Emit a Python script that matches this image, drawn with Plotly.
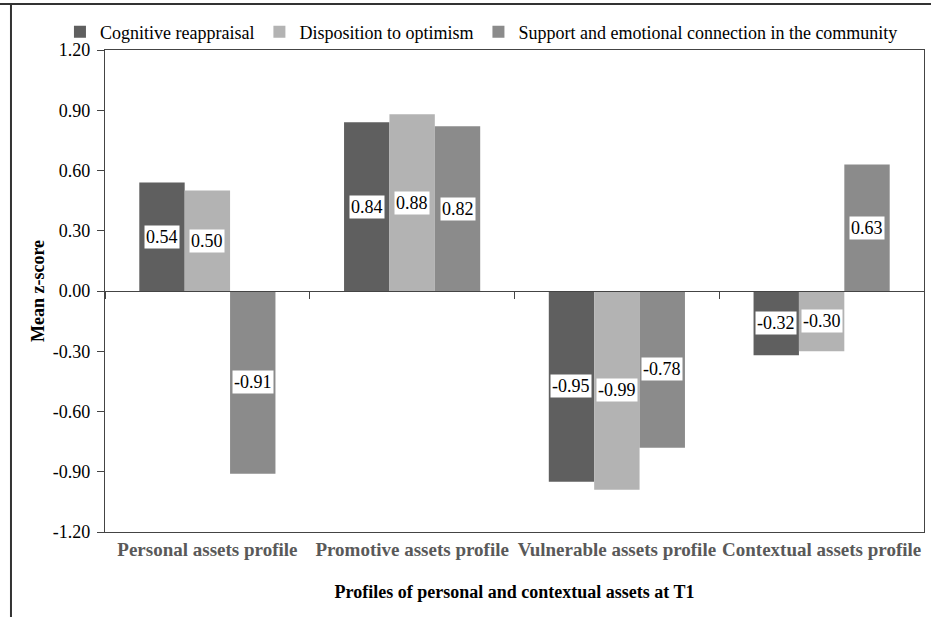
import plotly.graph_objects as go

categories = ["Personal assets profile", "Promotive assets profile",
              "Vulnerable assets profile", "Contextual assets profile"]
series_names = ["Cognitive reappraisal", "Disposition to optimism",
                "Support and emotional connection in the community"]
cognitive = [0.54, 0.84, -0.95, -0.32]
optimism = [0.50, 0.88, -0.99, -0.30]
support = [-0.91, 0.82, -0.78, 0.63]
y_tickvals = [1.20, 0.90, 0.60, 0.30, 0.00, -0.30, -0.60, -0.90, -1.20]
y_ticktext = ["1.20", "0.90", "0.60", "0.30", "0.00", "-0.30", "-0.60", "-0.90", "-1.20"]

colors = ["#5f5f5f", "#b3b3b3", "#8b8b8b"]
FONT = "Liberation Serif, Times New Roman, serif"
BARGAP = 0.335

series = [cognitive, optimism, support]
fig = go.Figure()
for name, vals, col in zip(series_names, series, colors):
    fig.add_trace(go.Bar(name=name, x=categories, y=vals, marker=dict(color=col, line=dict(width=0))))

# invisible trace to host the axis drawn at y = 0 (category boundary ticks)
fig.add_trace(go.Scatter(x=categories, y=[None] * len(categories), xaxis="x2",
                         showlegend=False, hoverinfo="skip"))

# value labels in white boxes at the middle of each bar
n = len(series)
bw = (1 - BARGAP) / n
annotations = []
for i, vals in enumerate(series):
    for j, v in enumerate(vals):
        annotations.append(dict(
            x=j + (i - (n - 1) / 2) * bw, y=v / 2, xref="x", yref="y",
            text=f"{v:.2f}", showarrow=False, bgcolor="white", borderpad=1,
            font=dict(family=FONT, size=18, color="black")))

fig.update_layout(
    width=931, height=617,
    margin=dict(l=105, r=7, t=50, b=85, autoexpand=False),
    paper_bgcolor="white", plot_bgcolor="white",
    barmode="group", bargap=BARGAP, bargroupgap=0,
    font=dict(family=FONT, size=18, color="black"),
    showlegend=True,
    legend=dict(orientation="h", x=-0.055, xanchor="left",
                y=1.037, yanchor="middle",
                font=dict(family=FONT, size=18, color="black"),
                itemwidth=30, tracegroupgap=0, bgcolor="rgba(0,0,0,0)"),
    xaxis=dict(type="category", showline=True, linecolor="#444444", linewidth=1.3,
               mirror=True, ticks="", showgrid=False, automargin=False,
               tickfont=dict(family=FONT, size=19, color="#595959", weight="bold"),
               title=dict(text="<b>Profiles of personal and contextual assets at T1</b>",
                          font=dict(family=FONT, size=18, color="black"), standoff=26)),
    xaxis2=dict(type="category", matches="x", overlaying="x", anchor="free", position=0.5,
                showline=True, linecolor="#444444", linewidth=1, ticks="outside",
                tickson="boundaries", ticklen=7, tickcolor="#444444", automargin=False,
                showticklabels=False, showgrid=False),
    yaxis=dict(range=[-1.2, 1.2], tickvals=y_tickvals, ticktext=y_ticktext,
               showline=True, linecolor="#444444", linewidth=1.3, mirror=True,
               ticks="outside", ticklen=7, tickcolor="#444444", showgrid=False,
               zeroline=True, zerolinecolor="#444444", zerolinewidth=1, automargin=False,
               ticklabelstandoff=3,
               tickfont=dict(family=FONT, size=18, color="black"),
               title=dict(text="<b>Mean z-score</b>",
                          font=dict(family=FONT, size=18, color="black"), standoff=3)),
    annotations=annotations,
    shapes=[
        dict(type="line", xref="paper", yref="paper", x0=-0.2, x1=1.1, y0=1.0954, y1=1.0954,
             line=dict(color="#333333", width=2)),
        dict(type="line", xref="paper", yref="paper", x0=-0.1148, x1=-0.1148, y0=1.0954, y1=-0.2,
             line=dict(color="#333333", width=2)),
    ],
)

fig.write_html("out.html", config={"displayModeBar": False},
               post_script="document.body.style.margin='0';")
